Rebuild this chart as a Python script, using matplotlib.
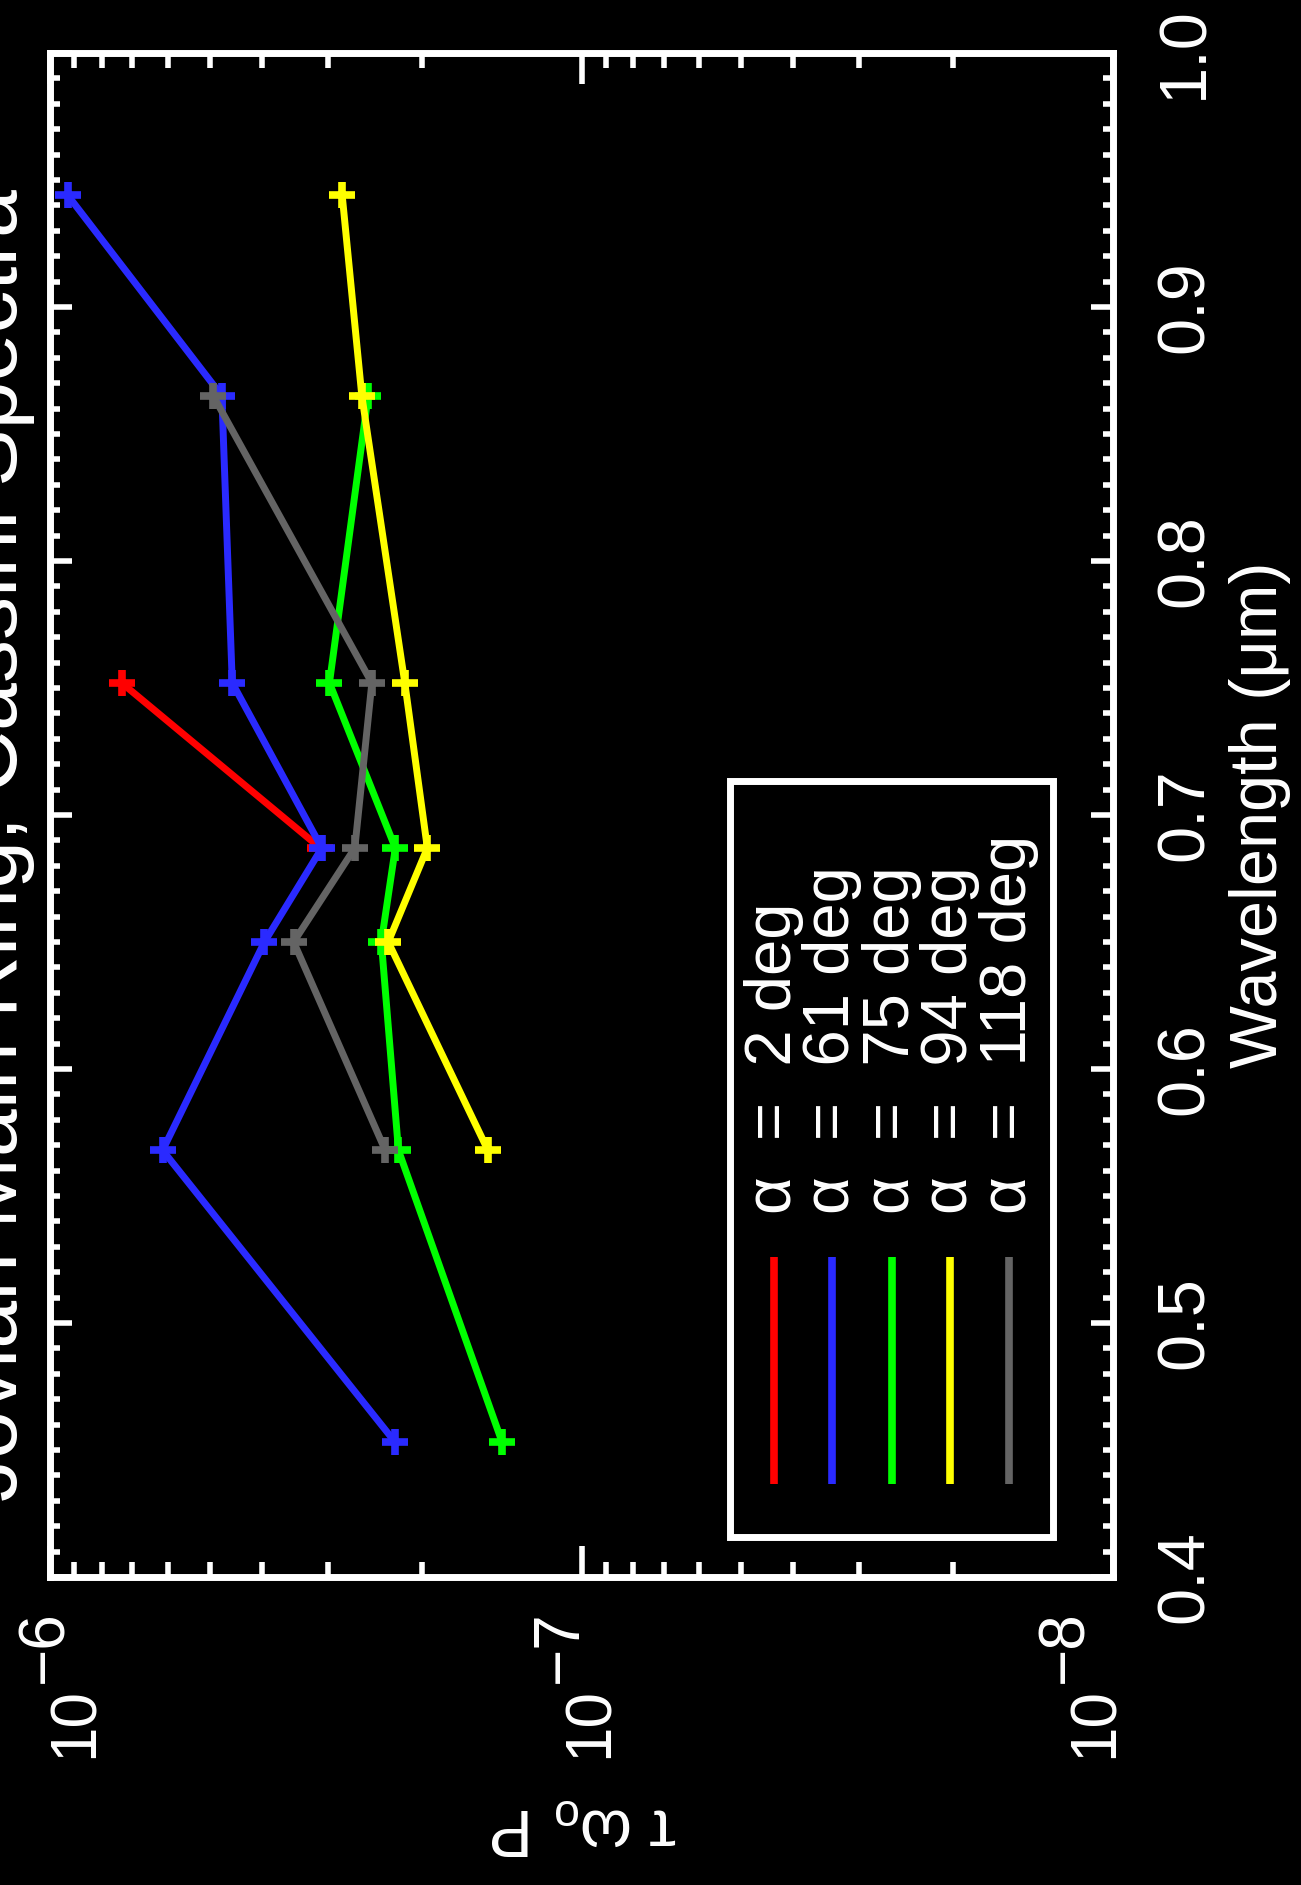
import numpy as np
import matplotlib
matplotlib.use('Agg')
import matplotlib.pyplot as plt
from matplotlib.ticker import LogLocator, MultipleLocator, NullFormatter, FixedLocator
from matplotlib.patches import Rectangle

plt.rcParams['font.family'] = ['Liberation Sans', 'DejaVu Sans']
plt.rcParams['mathtext.fontset'] = 'custom'
plt.rcParams['mathtext.rm'] = 'Liberation Sans'
plt.rcParams['mathtext.it'] = 'Liberation Sans'
plt.rcParams['mathtext.bf'] = 'Liberation Sans:bold'

# phase angles (deg) and colours
angles = [2, 61, 75, 94, 118]
colors = ['#ff0000', '#2a2aff', '#00ff00', '#ffff00', '#646464']

# wavelength (micron) and tau*omega0*P for each phase angle
wl_2 = [0.687, 0.752]
tp_2 = [3.10e-7, 7.33e-7]
wl_61 = [0.453, 0.568, 0.650, 0.687, 0.752, 0.865, 0.944]
tp_61 = [2.24e-7, 6.14e-7, 3.95e-7, 3.08e-7, 4.54e-7, 4.75e-7, 9.26e-7]
wl_75 = [0.453, 0.568, 0.650, 0.687, 0.752, 0.865]
tp_75 = [1.41e-7, 2.21e-7, 2.38e-7, 2.24e-7, 2.98e-7, 2.52e-7]
wl_94 = [0.568, 0.650, 0.687, 0.752, 0.865, 0.944]
tp_94 = [1.50e-7, 2.31e-7, 1.95e-7, 2.15e-7, 2.59e-7, 2.82e-7]
wl_118 = [0.568, 0.650, 0.687, 0.752, 0.865]
tp_118 = [2.34e-7, 3.48e-7, 2.67e-7, 2.48e-7, 4.93e-7]

wls = [wl_2, wl_61, wl_75, wl_94, wl_118]
tps = [tp_2, tp_61, tp_75, tp_94, tp_118]

# log axis labels
decades = [1e-6, 1e-7, 1e-8]
exponents = ['\u22126', '\u22127', '\u22128']
label_shift = [43, 26, 0]  # px, where each label sits against its tick

W, H = 1301, 1885
fig = plt.figure(figsize=(W / 100, H / 100), dpi=100, facecolor='black')
# the page is drawn turned on its side: wavelength runs up, tau*w0*P runs right->left
ax = fig.add_axes([50 / W, 1 - 1577 / H, 1063 / W, 1524 / H])
ax.set_facecolor('black')

for wl, tp, c in zip(wls, tps, colors):
    ax.plot(tp, wl, color=c, lw=5, marker='+', ms=19, mew=5.5)

ax.set_xscale('log')
ax.set_xlim(1e-6, 1e-8)
ax.set_ylim(0.4, 1.0)

ax.xaxis.set_major_locator(FixedLocator(decades))
ax.xaxis.set_minor_locator(LogLocator(base=10, subs=np.arange(2, 10)))
ax.xaxis.set_major_formatter(NullFormatter())
ax.xaxis.set_minor_formatter(NullFormatter())
ax.yaxis.set_major_locator(MultipleLocator(0.1))
ax.yaxis.set_minor_locator(MultipleLocator(0.01))

ax.tick_params(axis='x', which='both', direction='in', top=True, bottom=True,
               color='white', width=4)
ax.tick_params(axis='x', which='major', length=22)
ax.tick_params(axis='x', which='minor', length=11)
ax.tick_params(axis='y', which='both', direction='in', left=True, right=True,
               labelleft=False, labelright=True, color='white',
               labelcolor='white', labelrotation=90, labelsize=48, pad=30, width=4)
ax.tick_params(axis='y', which='major', length=16)
ax.tick_params(axis='y', which='minor', length=7)
ax.yaxis.set_major_formatter(plt.FormatStrFormatter('%.1f'))
plt.setp(ax.get_yticklabels(), va='center')

# 10^-n labels with full size raised exponent
for d, e, dx in zip(decades, exponents, label_shift):
    ax.annotate('10', xy=(d, 0), xycoords=('data', 'axes fraction'),
                xytext=(dx, -181), textcoords='offset pixels', color='white',
                fontsize=46, rotation=90, rotation_mode='anchor',
                ha='left', va='baseline', annotation_clip=False)
    ax.annotate(e, xy=(d, 0), xycoords=('data', 'axes fraction'),
                xytext=(dx - 31, -106), textcoords='offset pixels', color='white',
                fontsize=46, rotation=90, rotation_mode='anchor',
                ha='left', va='baseline', annotation_clip=False)

for s in ax.spines.values():
    s.set_color('white')
    s.set_linewidth(5)

ax.yaxis.set_label_position('right')
ax.set_ylabel('Wavelength (μm)', fontsize=48, color='white')
ax.yaxis.label.set_rotation(90)
ax.yaxis.label.set_rotation_mode('default')
ax.yaxis.label.set_ha('center')
ax.yaxis.label.set_va('center')
ax.yaxis.set_label_coords(1.138, 0.5)

ax.set_xlabel(r'$\tau\ \omega_o\ \mathrm{P}$', fontsize=48, color='white')
ax.xaxis.label.set_rotation(180)
ax.xaxis.label.set_ha('center')
ax.xaxis.label.set_va('center')
ax.xaxis.set_label_coords(0.502, -0.164)

fig.text(17 / W, 1 - 845 / H, 'Jovian Main Ring, Cassini Spectra', color='white',
         fontsize=62, rotation=90, rotation_mode='anchor', ha='center', va='baseline')

# legend, turned like the rest of the page
ax.add_patch(Rectangle((0.640, 0.026), 0.304, 0.496, transform=ax.transAxes,
                       fill=False, ec='white', lw=5, zorder=5))
key_x = [0.681, 0.736, 0.792, 0.847, 0.902]
for kx, a, c in zip(key_x, angles, colors):
    ax.plot([kx, kx], [0.061, 0.210], transform=ax.transAxes, color=c, lw=5.5,
            solid_capstyle='butt', zorder=5)
    ax.text(kx, 0.238, 'α  =  %d deg' % a, transform=ax.transAxes, color='white',
            fontsize=47, rotation=90, rotation_mode='anchor', ha='left', va='center',
            zorder=5)

fig.savefig('out.png', dpi=100, facecolor='black')
